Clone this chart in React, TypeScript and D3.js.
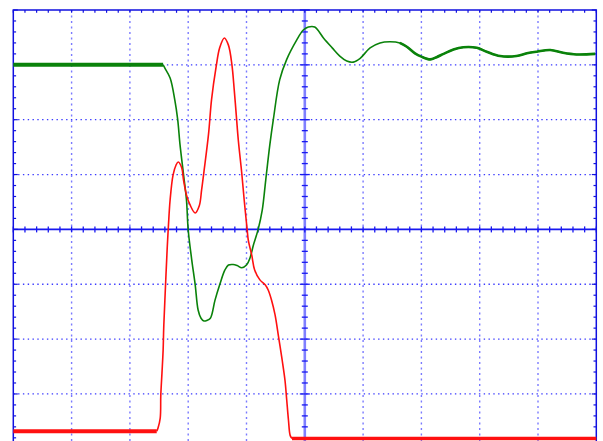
import React from "react";
import * as d3 from "d3";

// Time axis in divisions (-5 .. 5), amplitude in divisions (-4 .. 4)
const greenT = [-5, -2.43, -2.40, -2.31, -2.23, -2.18, -2.14, -2.08, -2.03, -2.00, -1.94, -1.88, -1.83, -1.78, -1.73, -1.68, -1.62, -1.54, -1.46, -1.37, -1.31, -1.23, -1.16, -1.08, -1.00, -0.94, -0.88, -0.80, -0.73, -0.67, -0.60, -0.54, -0.43, -0.31, -0.14, -0.03, 0.06, 0.17, 0.32, 0.47, 0.60, 0.72, 0.83, 0.95, 1.12, 1.29, 1.46, 1.63, 1.75, 1.89, 2.00, 2.15, 2.26, 2.38, 2.55, 2.72, 2.95, 3.12, 3.35, 3.63, 3.81, 3.98, 4.21, 4.43, 4.66, 4.98];
const greenV = [3.0, 3.0, 2.94, 2.76, 2.36, 2.0, 1.54, 1.0, 0.54, -0.01, -0.55, -1.01, -1.47, -1.62, -1.67, -1.66, -1.62, -1.29, -1.01, -0.74, -0.65, -0.64, -0.66, -0.70, -0.65, -0.52, -0.28, 0.0, 0.35, 0.90, 1.54, 2.0, 2.73, 3.10, 3.45, 3.63, 3.69, 3.69, 3.49, 3.31, 3.16, 3.07, 3.05, 3.12, 3.31, 3.40, 3.42, 3.40, 3.33, 3.21, 3.15, 3.10, 3.14, 3.20, 3.28, 3.32, 3.31, 3.24, 3.16, 3.16, 3.21, 3.24, 3.27, 3.22, 3.19, 3.20];

const redT = [-5, -2.54, -2.52, -2.48, -2.47, -2.45, -2.43, -2.42, -2.40, -2.36, -2.34, -2.31, -2.26, -2.21, -2.17, -2.11, -2.08, -2.03, -1.97, -1.88, -1.81, -1.77, -1.73, -1.65, -1.60, -1.52, -1.46, -1.38, -1.31, -1.25, -1.21, -1.17, -1.14, -1.08, -1.04, -0.99, -0.97, -0.91, -0.86, -0.77, -0.68, -0.63, -0.57, -0.51, -0.45, -0.39, -0.34, -0.31, -0.28, -0.25, -0.22, 5.0];
const redV = [-3.68, -3.68, -3.63, -3.44, -3.02, -2.62, -2.20, -1.80, -1.29, -0.34, 0.05, 0.54, 0.99, 1.17, 1.23, 1.12, 0.90, 0.63, 0.45, 0.30, 0.43, 0.72, 1.05, 1.75, 2.36, 2.97, 3.31, 3.49, 3.36, 3.0, 2.54, 2.01, 1.62, 1.01, 0.54, 0.01, -0.19, -0.47, -0.74, -0.92, -1.01, -1.10, -1.29, -1.56, -1.96, -2.37, -2.75, -3.11, -3.48, -3.76, -3.81, -3.81];

const W = 603;
const H = 441;
const left = 13.3, right = 596.3, top = 10, bottom = 448.8;

export default function App() {
  const x = d3.scaleLinear().domain([-5, 5]).range([left, right]);
  const y = d3.scaleLinear().domain([-4, 4]).range([bottom, top]);

  const majorX = d3.range(-5, 5.001, 1);
  const majorY = d3.range(-4, 4.001, 1);
  const minorX = d3.range(-5, 5.001, 0.2);
  const minorY = d3.range(-4, 4.001, 0.2);

  type P = [number, number];
  const green: P[] = greenT.map((t, i) => [t, greenV[i]]);
  const red: P[] = redT.map((t, i) => [t, redV[i]]);

  const line = d3
    .line<P>()
    .x((d) => x(d[0]))
    .y((d) => y(d[1]))
    .curve(d3.curveCatmullRom.alpha(0.5));
  const straight = d3
    .line<P>()
    .x((d) => x(d[0]))
    .y((d) => y(d[1]));

  const greenPre = green.filter((d) => d[0] <= -2.43);
  const greenMoving = green.filter((d) => d[0] >= -2.43);
  const greenTail = green.filter((d) => d[0] >= 1.6);
  const redPre = red.filter((d) => d[0] <= -2.54);
  const redMoving = red.filter((d) => d[0] >= -2.54 && d[0] <= -0.22);
  const redPost = red.filter((d) => d[0] >= -0.22);

  const gridH = "#3a3aff";
  const gridV = "#7a7aff";
  const frame = "#1010e0";

  return (
    <svg
      width={W}
      height={H}
      style={{ position: "absolute", left: 0, top: 0, background: "#fff" }}
    >
      {/* dotted grid */}
      {majorY
        .filter((v) => v !== 0 && v !== -4 && v !== 4)
        .map((v) => (
          <line
            key={"gh" + v}
            x1={left}
            x2={right}
            y1={y(v)}
            y2={y(v)}
            stroke={gridH}
            strokeWidth={1.3}
            strokeDasharray="1.4,3.4"
          />
        ))}
      {majorX
        .filter((t) => t !== 0 && t !== -5 && t !== 5)
        .map((t) => (
          <line
            key={"gv" + t}
            x1={x(t)}
            x2={x(t)}
            y1={top}
            y2={bottom}
            stroke={gridV}
            strokeWidth={1.4}
            strokeDasharray="2,3.5"
          />
        ))}

      {/* center axes */}
      <line x1={x(0)} x2={x(0)} y1={top} y2={bottom} stroke="#8080ff" strokeWidth={2.6} />
      <line x1={left} x2={right} y1={y(0)} y2={y(0)} stroke="#1818f0" strokeWidth={1.8} />
      {minorX.map((t, i) => (
        <line
          key={"cxt" + i}
          x1={x(t)}
          x2={x(t)}
          y1={y(0) - 3}
          y2={y(0) + 3}
          stroke="#1818f0"
          strokeWidth={1.3}
        />
      ))}
      {minorY.map((v, i) => {
        const major = Math.abs(v - Math.round(v)) < 1e-6;
        const len = major ? 5 : 3;
        return (
          <line
            key={"cyt" + i}
            x1={x(0) - len}
            x2={x(0) + len}
            y1={y(v)}
            y2={y(v)}
            stroke="#1818f0"
            strokeWidth={1.3}
          />
        );
      })}

      {/* frame */}
      <rect
        x={left}
        y={top}
        width={right - left}
        height={bottom - top}
        fill="none"
        stroke={frame}
        strokeWidth={1.5}
      />
      {minorX.map((t, i) => (
        <line
          key={"ft" + i}
          x1={x(t)}
          x2={x(t)}
          y1={top}
          y2={top + 2.8}
          stroke={frame}
          strokeWidth={1.2}
        />
      ))}
      {minorY.map((v, i) => {
        const major = Math.abs(v - Math.round(v)) < 1e-6;
        const len = major ? 4.5 : 2.8;
        return (
          <g key={"fy" + i}>
            <line x1={left} x2={left + len} y1={y(v)} y2={y(v)} stroke={frame} strokeWidth={1.2} />
            <line x1={right} x2={right - len} y1={y(v)} y2={y(v)} stroke={frame} strokeWidth={1.2} />
          </g>
        );
      })}

      {/* traces */}
      <path d={straight(greenPre) || ""} fill="none" stroke="#0a820a" strokeWidth={4} />
      <path d={line(greenMoving) || ""} fill="none" stroke="#0a820a" strokeWidth={1.6} />
      <path d={line(greenTail) || ""} fill="none" stroke="#0a820a" strokeWidth={2.6} />

      <path d={straight(redPre) || ""} fill="none" stroke="#ff1010" strokeWidth={4} />
      <path d={line(redMoving) || ""} fill="none" stroke="#ff1010" strokeWidth={1.6} />
      <path d={straight(redPost) || ""} fill="none" stroke="#ff1010" strokeWidth={3.5} />
    </svg>
  );
}
